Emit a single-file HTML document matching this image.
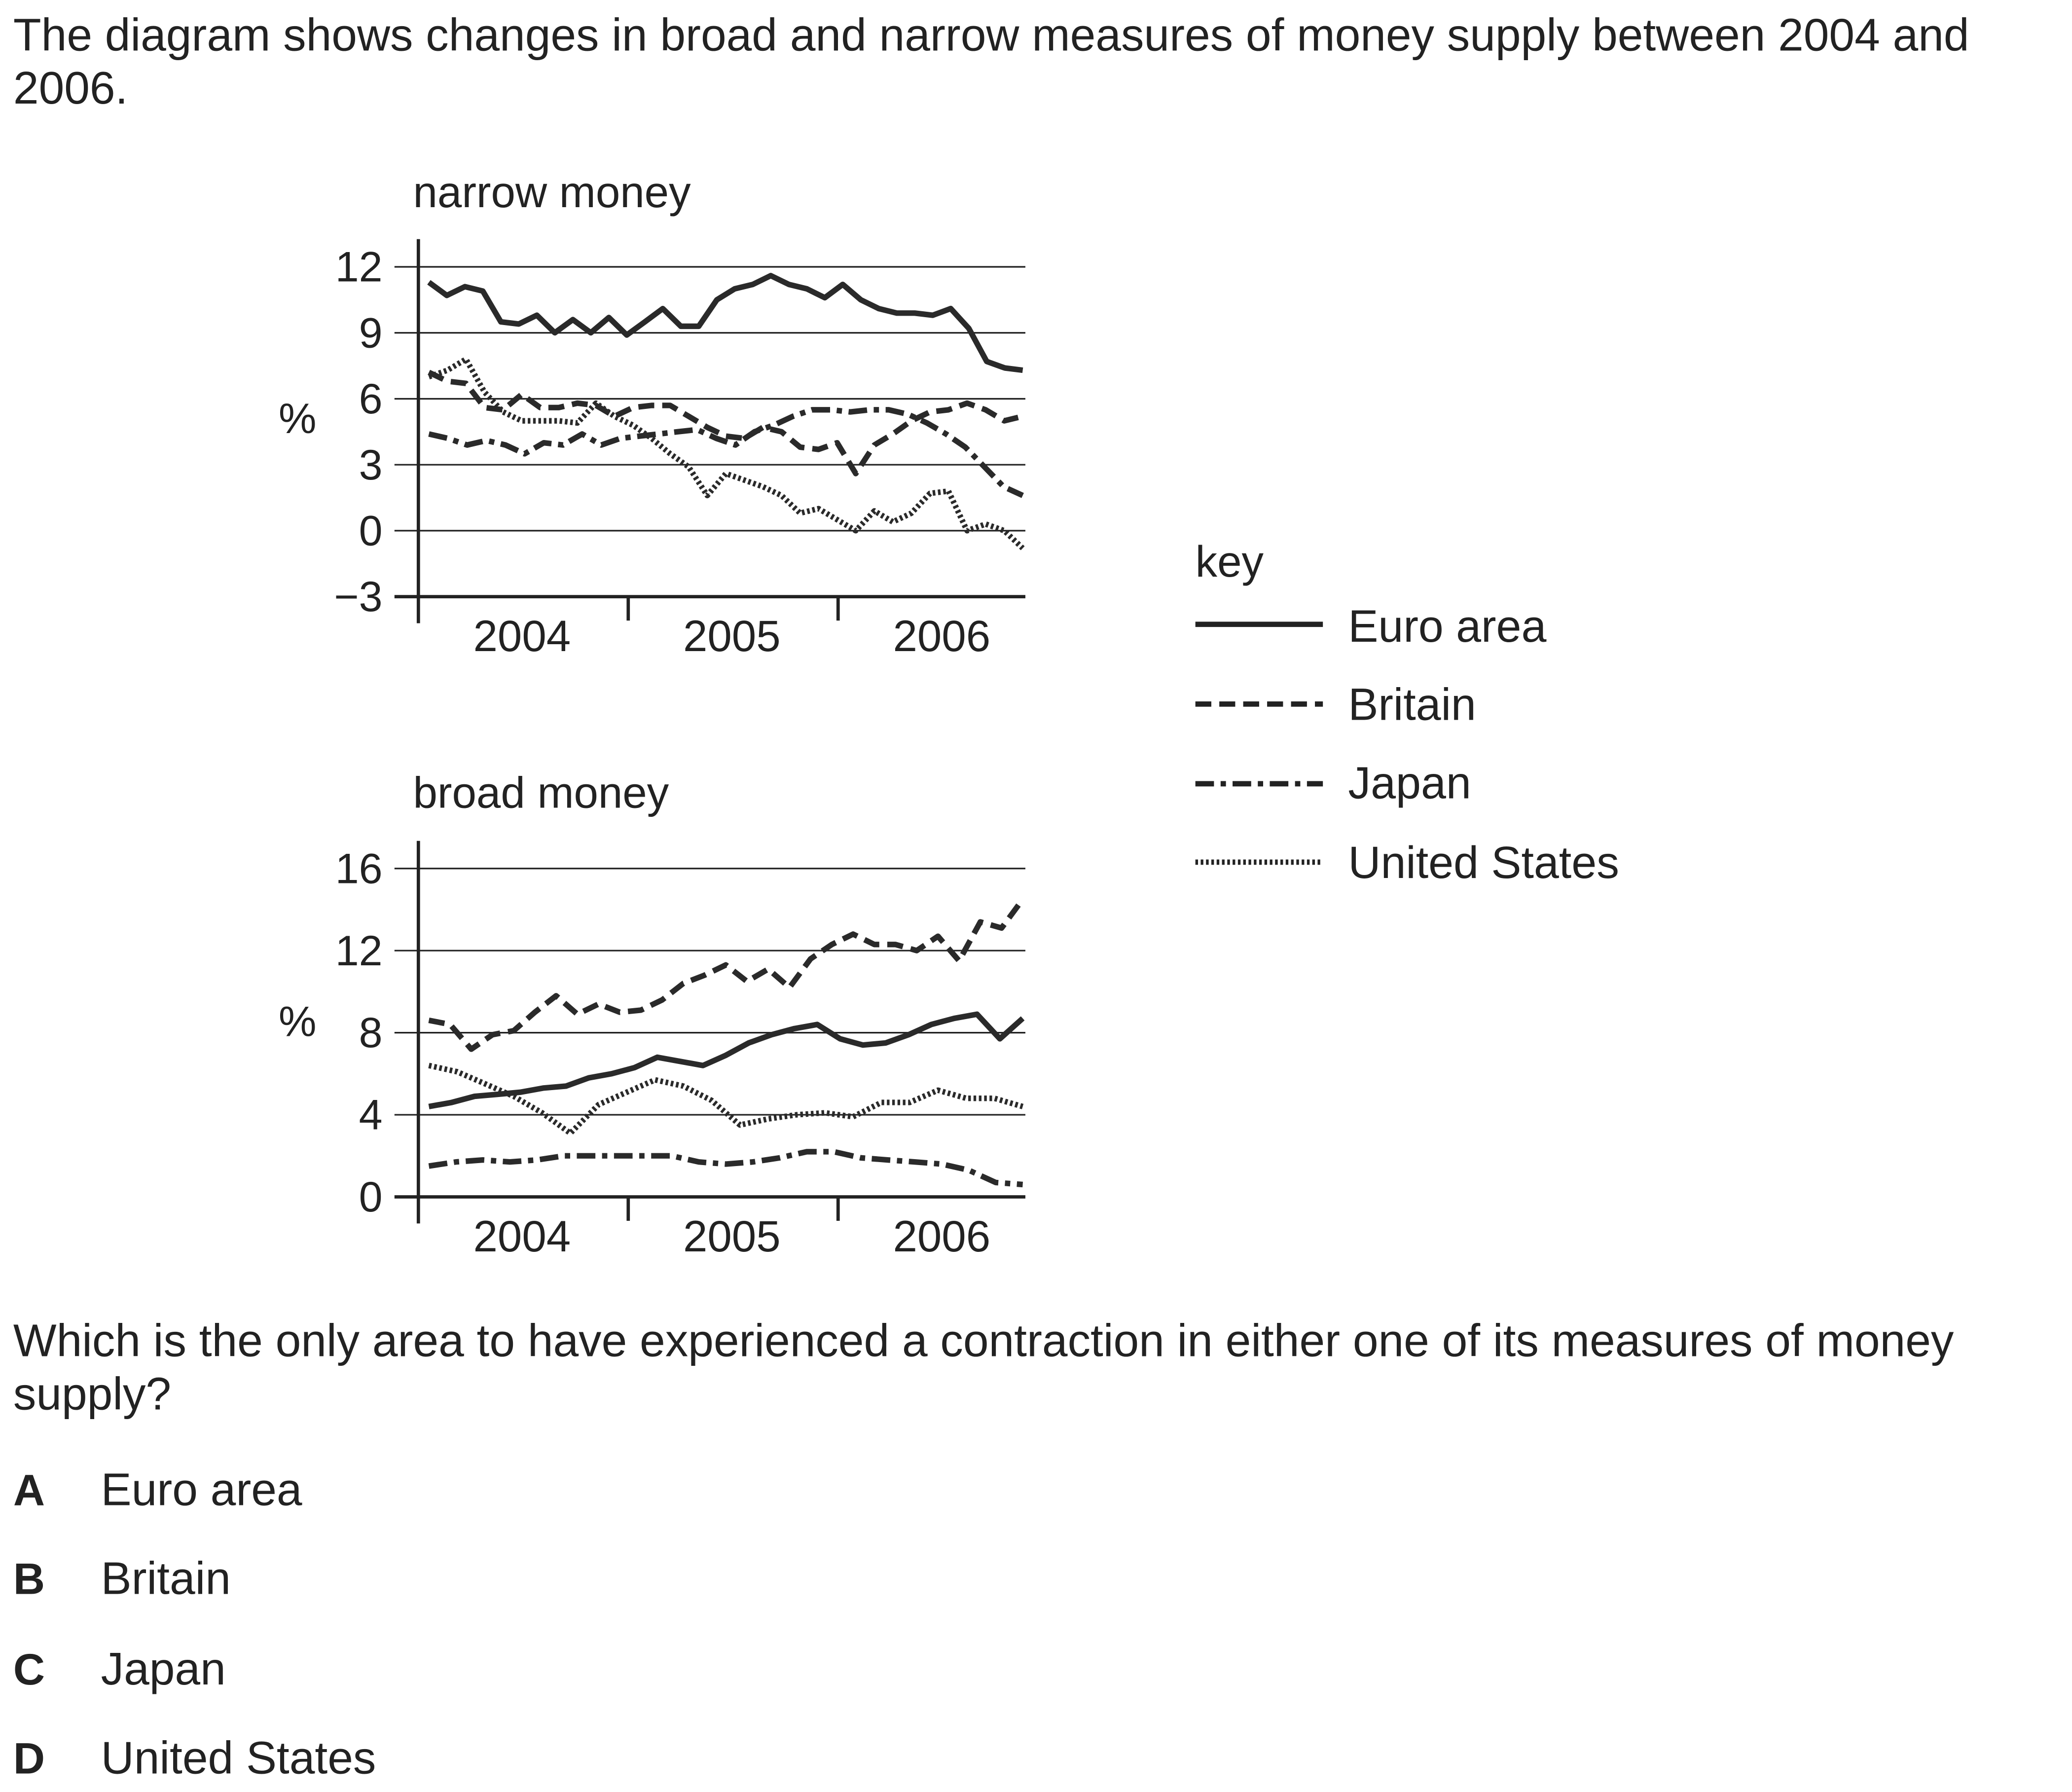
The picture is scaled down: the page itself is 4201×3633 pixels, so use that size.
<!DOCTYPE html>
<html><head><meta charset="utf-8"><style>
html,body{margin:0;padding:0;background:#fff;}
svg{display:block;}
text{font-family:"Liberation Sans",Arial,sans-serif;fill:#222;}
</style></head><body>
<svg id="s" width="4201" height="3633" viewBox="0 0 1560 1349" preserveAspectRatio="none" xmlns="http://www.w3.org/2000/svg">
<text x="10" y="38" font-size="34.5">The diagram shows changes in broad and narrow measures of money supply between 2004 and</text>
<text x="10" y="78" font-size="34.5">2006.</text>
<text x="311" y="156" font-size="33">narrow money</text>
<text x="311" y="608" font-size="33">broad money</text>
<g id="top"></g>
<g id="bot"></g>
<g>
<text x="900" y="434" font-size="33">key</text>
<line x1="900" y1="470" x2="996" y2="470" stroke="#222" stroke-width="4" />
<text x="1015" y="483" font-size="34">Euro area</text>
<line x1="900" y1="530" x2="996" y2="530" stroke="#222" stroke-width="4" stroke-dasharray="12 6"/>
<text x="1015" y="542" font-size="34">Britain</text>
<line x1="900" y1="590" x2="996" y2="590" stroke="#222" stroke-width="4" stroke-dasharray="14 5 4 5"/>
<text x="1015" y="601" font-size="34">Japan</text>
<line x1="900" y1="649" x2="996" y2="649" stroke="#222" stroke-width="4" stroke-dasharray="2 2"/>
<text x="1015" y="661" font-size="34">United States</text>
</g>
<text x="10" y="1021" font-size="34.5">Which is the only area to have experienced a contraction in either one of its measures of money</text>
<text x="10" y="1061" font-size="34.5">supply?</text>
<g><text x="10" y="1133" font-size="33" font-weight="bold">A</text><text x="76" y="1133" font-size="34.5">Euro area</text></g>
<g><text x="10" y="1200" font-size="33" font-weight="bold">B</text><text x="76" y="1200" font-size="34.5">Britain</text></g>
<g><text x="10" y="1268" font-size="33" font-weight="bold">C</text><text x="76" y="1268" font-size="34.5">Japan</text></g>
<g><text x="10" y="1335" font-size="33" font-weight="bold">D</text><text x="76" y="1335" font-size="34.5">United States</text></g>
<text x="224" y="326" font-size="32" text-anchor="middle">%</text>
<text x="224" y="780" font-size="32" text-anchor="middle">%</text>
</svg>
<script>
const yearLabels=["2004","2005","2006"];
const narrowTicks=[12,9,6,3,0,-3];
const broadTicks=[16,12,8,4,0];
const narrowEuro=[11.3,10.7,11.1,10.9,9.5,9.4,9.8,9.0,9.6,9.0,9.7,8.9,9.5,10.1,9.3,9.3,10.5,11.0,11.2,11.6,11.2,11.0,10.6,11.2,10.5,10.1,9.9,9.9,9.8,10.1,9.2,7.7,7.4,7.3];
const narrowBritain=[7.2,6.8,6.7,5.6,5.5,6.2,5.6,5.6,5.8,5.7,5.2,5.6,5.7,5.7,5.2,4.7,4.3,4.2,4.7,4.5,3.8,3.7,4.0,2.6,3.9,4.4,5.0,5.4,5.5,5.8,5.5,5.0,5.2];
const narrowJapan=[4.4,4.2,3.9,4.1,3.9,3.5,4.0,3.9,4.4,3.9,4.2,4.3,4.4,4.5,4.6,4.2,3.9,4.5,4.8,5.2,5.5,5.5,5.4,5.5,5.5,5.3,4.9,4.4,3.8,2.9,2.0,1.6];
const narrowUS=[7.0,7.3,7.8,6.3,5.4,5.0,5.0,5.0,4.9,5.8,5.2,4.8,4.2,3.5,2.9,1.6,2.6,2.3,2.0,1.6,0.8,1.0,0.5,0.0,0.9,0.4,0.8,1.7,1.8,0.0,0.3,0.0,-0.8];
const broadEuro=[4.4,4.6,4.9,5.0,5.1,5.3,5.4,5.8,6.0,6.3,6.8,6.6,6.4,6.9,7.5,7.9,8.2,8.4,7.7,7.4,7.5,7.9,8.4,8.7,8.9,7.7,8.7];
const broadBritain=[8.6,8.4,7.2,7.9,8.1,9.0,9.8,8.9,9.4,9.0,9.1,9.6,10.4,10.8,11.3,10.5,11.1,10.2,11.6,12.3,12.8,12.3,12.3,12.0,12.7,11.5,13.4,13.1,14.5];
const broadJapan=[1.5,1.7,1.8,1.7,1.8,2.0,2.0,2.0,2.0,2.0,1.7,1.6,1.7,1.9,2.2,2.2,1.9,1.8,1.7,1.6,1.3,0.7,0.6];
const broadUS=[6.4,6.1,5.5,4.9,4.1,3.1,4.5,5.1,5.7,5.4,4.7,3.5,3.8,4.0,4.1,3.9,4.6,4.6,5.2,4.8,4.8,4.4];
const NS="http://www.w3.org/2000/svg";
function mk(p,tag,a){const e=document.createElementNS(NS,tag);for(const k in a)e.setAttribute(k,a[k]);p.appendChild(e);return e;}
const x0=315,yearW=158;
const xs=t=>x0+t*yearW;
function chart(g,ticks,y0v,y0,unitPx,axisTop,series){
  const ys=v=>y0-(v-y0v)*unitPx;
  const bottomV=ticks[ticks.length-1];
  ticks.forEach(v=>{
    const y=ys(v);
    const gl=mk(g,'line',{x1:297,x2:772,y1:y,y2:y,stroke:'#222','stroke-width':v===bottomV?2.5:1.2});
    
    
    const t=mk(g,'text',{x:288,y:y+11,'font-size':32,'text-anchor':'end'});
    t.textContent=v<0?'\u2212'+Math.abs(v):String(v);
    
    
  });
  const by=ys(bottomV);
  const ax=mk(g,'line',{x1:315,x2:315,y1:axisTop,y2:by+20,stroke:'#222','stroke-width':2.5});
  
  
  [1,2].forEach(i=>{const l=mk(g,'line',{x1:xs(i),x2:xs(i),y1:by,y2:by+18,stroke:'#222','stroke-width':2.5});
    
    });
  yearLabels.forEach((s,i)=>{const t=mk(g,'text',{x:xs(i+0.5)-1,y:by+41,'font-size':33,'text-anchor':'middle'});t.textContent=s;
    
    });
  series.forEach(([vals,dash,name])=>{
    const t0=0.05,t1=2.88;
    const pts=vals.map((v,i)=>xs(t0+i*(t1-t0)/(vals.length-1)).toFixed(1)+','+ys(v).toFixed(1)).join(' ');
    const pl=mk(g,'polyline',{points:pts,fill:'none',stroke:'#2a2a2a','stroke-width':4.2,'stroke-linejoin':'round','stroke-dasharray':dash});
    
    
  });
}
chart(document.getElementById('top'),narrowTicks,0,399.5,16.55,180,[
  [narrowEuro,'none','narrow-euro-line'],[narrowBritain,'12 6','narrow-britain-line'],
  [narrowJapan,'14 5 4 5','narrow-japan-line'],[narrowUS,'2 2','narrow-us-line']]);
chart(document.getElementById('bot'),broadTicks,0,901,15.45,633,[
  [broadEuro,'none','broad-euro-line'],[broadBritain,'12 6','broad-britain-line'],
  [broadJapan,'14 5 4 5','broad-japan-line'],[broadUS,'2 2','broad-us-line']]);
</script>
</body></html>
